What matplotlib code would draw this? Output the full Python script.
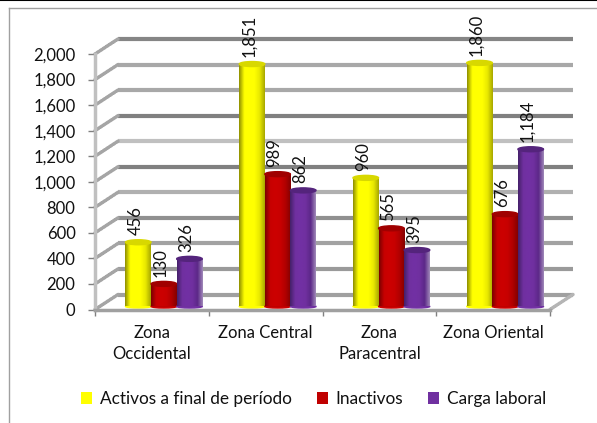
import numpy as np
import matplotlib
matplotlib.use("Agg")
import matplotlib.pyplot as plt
from matplotlib.colors import LinearSegmentedColormap
from matplotlib.lines import Line2D
from matplotlib.patches import Ellipse, Patch
from matplotlib.transforms import Affine2D

plt.rcParams['font.family'] = ['Lato', 'DejaVu Sans']

zonas = ["Zona\nOccidental", "Zona Central", "Zona\nParacentral", "Zona Oriental"]
activos = [456, 1851, 960, 1860]
inactivos = [130, 989, 565, 676]
carga = [326, 862, 395, 1184]
nombres = ["Activos a final de período", "Inactivos", "Carga laboral"]
ticks = list(range(0, 2001, 200))
grid_colors = ["#a0a0a0", "#9a9a9a", "#a2a2a2", "#909090", "#b0b0b0", "#808080",
               "#c0c0c0", "#808080", "#a8a8a8", "#a8a8a8", "#858585"]

W, H = 597, 423
fig = plt.figure(figsize=(W / 100, H / 100), dpi=100, facecolor="white")
ax = fig.add_axes([95 / W, 1 - 309.5 / H, 455 / W, 255.5 / H])
ax.set_facecolor("none")

back = ax.transData + Affine2D().translate(23, 15)
front = ax.transData + Affine2D().translate(12, 3)

# pared de fondo y lateral
ax.hlines(ticks, 0, 4, colors=grid_colors, lw=3, transform=back, clip_on=False, zorder=1)
for v in ticks:
    ax.annotate("", xy=(0, v), xycoords="data", xytext=(23, 15), textcoords="offset pixels",
                arrowprops=dict(arrowstyle="-", color="#a5a5a5", lw=2.5, ls=(0, (0.6, 0.5)),
                                shrinkA=0, shrinkB=0), zorder=1)
ax.annotate("", xy=(4, 0), xycoords="data", xytext=(23, 15), textcoords="offset pixels",
            arrowprops=dict(arrowstyle="-", color="#b5b5b5", lw=2.5, ls=(0, (0.6, 0.5)),
                            shrinkA=0, shrinkB=0), zorder=1)

series = [
    (activos, "#ffff00", ["#8f8f00", "#ffff00", "#ffff00", "#ffff00", "#e8e800", "#a8a800"], "#d8d800"),
    (inactivos, "#c00000", ["#7d0000", "#c80000", "#cc0000", "#c80000", "#b00000", "#850000"], "#a00000"),
    (carga, "#7030a0", ["#45206a", "#7030a0", "#7230a4", "#7030a0", "#5c2888", "#a088b8"], "#54247c"),
]
bar_w = 0.225
px_y = 2000 / 255.5
cap_h = 5 * px_y
base_h = 3 * px_y
x = np.arange(4) + 0.5
for i, (vals, color, grad, cap) in enumerate(series):
    cmap = LinearSegmentedColormap.from_list("c", grad)
    xs = x + (i - 1) * bar_w
    for xi, v in zip(xs, vals):
        top = v + 6 * px_y
        rect = ax.bar(xi, top, bar_w, color=color, transform=front, clip_on=False, zorder=3 + i)[0]
        im = ax.imshow(np.linspace(0, 1, 64).reshape(1, -1), cmap=cmap, aspect="auto",
                       extent=(xi - bar_w / 2, xi + bar_w / 2, 0, top),
                       transform=front, zorder=3 + i)
        im.set_clip_path(rect)
        ax.add_patch(Ellipse((xi, top), bar_w, cap_h, color=cap, transform=front,
                             clip_on=False, zorder=3 + i))
        ax.add_patch(Ellipse((xi, 0), bar_w, base_h, color=grad[2], transform=front,
                             clip_on=False, zorder=2.5 + i))
        ax.annotate(f"{v:,}", (xi, top), xycoords=front, xytext=(-3, 7),
                    textcoords="offset pixels", rotation=90, ha="center", va="bottom",
                    fontsize=12, color="#111111", zorder=10)

ax.set_xlim(0, 4)
ax.set_ylim(0, 2000)
ax.set_xticks(range(5))
ax.set_xticklabels([])
ax.set_xticks(x, minor=True)
ax.set_xticklabels(zonas, minor=True, fontsize=12, linespacing=1.4, color="#111111")
ax.tick_params(axis="x", which="minor", length=0, pad=11)
ax.tick_params(axis="x", which="major", length=4, color="#808080", width=1)
ax.set_yticks(ticks)
ax.set_yticklabels([f"{t:,}" for t in ticks], fontsize=12, color="#111111")
ax.tick_params(axis="y", length=5, color="#808080", width=1, pad=9)
for s in ["top", "right"]:
    ax.spines[s].set_visible(False)
ax.spines["left"].set_color("#c0c0c0")
ax.spines["left"].set_linewidth(2.5)
ax.spines["bottom"].set_color("#a0a0a0")
ax.spines["bottom"].set_linewidth(2.5)

handles = [Patch(facecolor=s[1], edgecolor="none") for s in series]
fig.legend(handles, nombres, loc="center", bbox_to_anchor=(313.5 / W, 1 - 399 / H), ncol=3,
           frameon=False, fontsize=12.4, handlelength=0.65, handleheight=0.7,
           handletextpad=0.45, columnspacing=1.45, labelcolor="#111111")

# marco de la imagen
fig.add_artist(Line2D([0, 1], [1 - 0.5 / H] * 2, color="black", lw=1.5))
fig.add_artist(Line2D([9 / W, 1], [1 - 8.5 / H] * 2, color="#a0a0a0", lw=1))
fig.add_artist(Line2D([9 / W, 9 / W], [0, 1 - 8.5 / H], color="#a0a0a0", lw=1))

fig.savefig("out.png", dpi=100)
